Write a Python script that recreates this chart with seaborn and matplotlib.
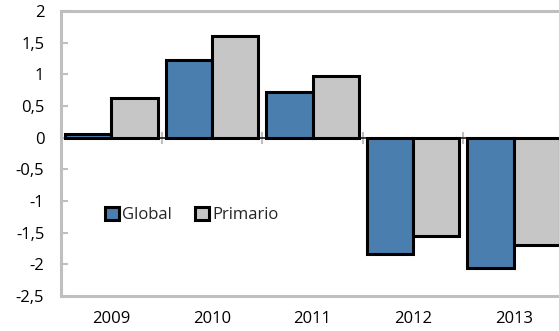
import matplotlib
matplotlib.use("Agg")
import matplotlib.pyplot as plt
import seaborn as sns
import pandas as pd
from matplotlib.ticker import FixedLocator, FuncFormatter

years = ["2009", "2010", "2011", "2012", "2013"]
global_vals = [0.06, 1.23, 0.72, -1.83, -2.05]
primario_vals = [0.62, 1.60, 0.98, -1.56, -1.70]
series_names = ["Global", "Primario"]
y_ticks = [2, 1.5, 1, 0.5, 0, -0.5, -1, -1.5, -2, -2.5]

df = pd.DataFrame({
    "year": years * 2,
    "value": global_vals + primario_vals,
    "serie": [series_names[0]] * len(years) + [series_names[1]] * len(years),
})

sns.set_theme(style="white")
plt.rcParams["font.family"] = ["Open Sans", "DejaVu Sans"]

fig = plt.figure(figsize=(5.59, 3.31), dpi=100)
ax = fig.add_axes([61 / 559, 1 - 296 / 331, 503 / 559, 285 / 331])

palette = {"Global": "#4A7EAE", "Primario": "#C6C6C6"}
sns.barplot(data=df, x="year", y="value", hue="serie", order=years,
            hue_order=series_names, palette=palette, width=0.92,
            edgecolor="black", linewidth=2.2, saturation=1, ax=ax,
            errorbar=None)

ax.set_ylim(-2.5, 2)
ax.set_xlim(-0.5, len(years) - 0.5)
ax.yaxis.set_major_locator(FixedLocator(y_ticks))
ax.yaxis.set_major_formatter(FuncFormatter(lambda v, p: ("%g" % v).replace(".", ",")))
ax.set_xlabel("")
ax.set_ylabel("")

grey = "#BFBFBF"
for side in ["left", "top", "bottom"]:
    ax.spines[side].set_color(grey)
    ax.spines[side].set_linewidth(2.2)
ax.spines["right"].set_visible(False)

ax.tick_params(axis="y", direction="in", length=5, width=1.5, color=grey,
               labelsize=12, labelcolor="black", pad=12, left=True)
ax.tick_params(axis="x", length=0, labelsize=12, labelcolor="black", pad=11)

# zero axis line with category-boundary ticks
sec = ax.secondary_xaxis(2.5 / 4.5)
sec.spines["bottom"].set_color(grey)
sec.spines["bottom"].set_linewidth(2.2)
sec.set_xticks([i + 0.5 for i in range(len(years) - 1)])
sec.set_xticklabels([""] * (len(years) - 1))
sec.tick_params(axis="x", direction="inout", length=8, width=1.5, color=grey,
                labelbottom=False, labeltop=False)

leg = ax.legend(loc="upper left", bbox_to_anchor=(0.075, 0.335), ncol=2,
                frameon=False, fontsize=12, handlelength=0.8, handleheight=0.8,
                handletextpad=0.2, columnspacing=1.4, borderaxespad=0)

fig.savefig("out.png", dpi=100)
